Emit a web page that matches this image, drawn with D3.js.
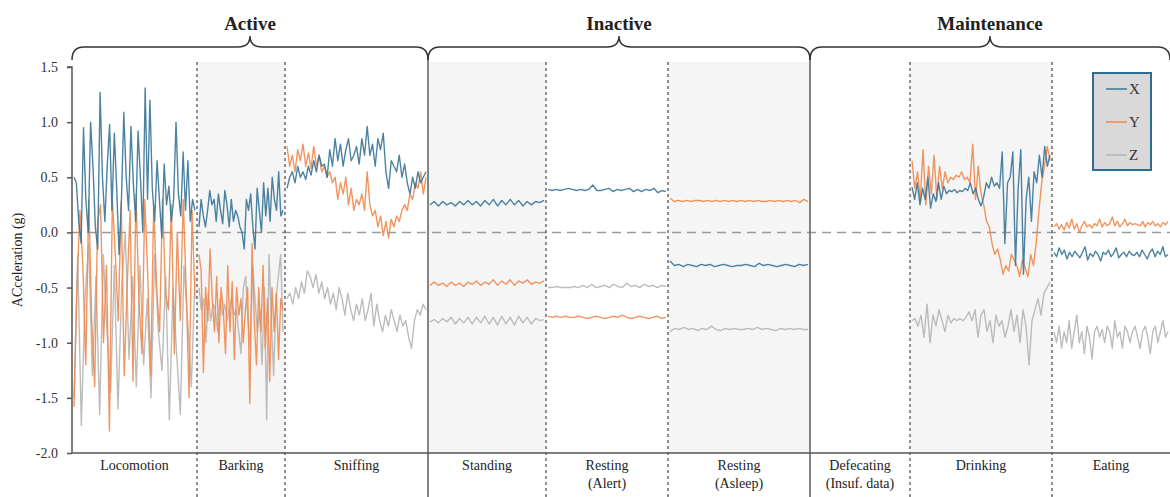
<!DOCTYPE html>
<html lang="en">
<head>
  <meta charset="utf-8">
  <title>Acceleration by behaviour</title>
  <script src="https://d3js.org/d3.v7.min.js"></script>
  <style>
  body { margin: 0; background: #fff; }
  svg text { font-family: "Liberation Serif", "Times New Roman", serif; fill: #222; }
  .axis text { font-size: 14px; fill: #333; }
  .axis path, .axis line { stroke: #555; stroke-width: 1.5; }
  </style>
</head>
<body>
<div id="chart"></div>
<script>
// behaviours along the x axis, with how many samples each one covers
var categories = ["Locomotion", "Barking", "Sniffing", "Standing", "Resting\n(Alert)",
                  "Resting\n(Asleep)", "Defecating\n(Insuf. data)", "Drinking", "Eating"];
var segLength = [125, 88, 143, 118, 122, 142, 100, 142, 118];
var groupNames = ["Active", "Inactive", "Maintenance"];
var groupSpans = [[0, 3], [3, 6], [6, 9]];
var yTicks = [1.5, 1.0, 0.5, 0.0, -0.5, -1.0, -1.5, -2.0];
var axisNames = ["X", "Y", "Z"];

// acceleration (g)
var locomotionX = [0.5, 0.45, 0.1, -0.1, 0.95, 0.3, 0.0, 1.0, 0.6, 0.05, -0.15, 1.27, 0.5, 0.1, 0.6, 0.98, 0.2, 0.9, 0.4, -0.2, 0.3, 1.09, 0.5, 0.2, 0.96, 0.45, 0.1, 0.92, 0.5, 0.0, 1.31, 0.3, 1.2, 0.4, 0.1, 0.65, 0.3, -0.05, 0.62, 0.25, 0.42, 0.1, 0.3, 1.0, 0.35, 0.15, 0.73, 0.2, 0.65, 0.1, 0.3, 0.2];
var locomotionY = [-1.58, -0.5, 0.2, -0.3, -1.2, 0.3, -0.8, -1.4, 0.1, 0.25, -1.0, -0.3, -1.8, 0.3, -0.2, -0.8, 0.28, -1.3, -0.5, 0.2, -1.35, 0.35, -0.6, -1.1, 0.3, -0.4, -1.3, 0.25, -0.5, -0.9, 0.3, -0.55, -0.7, 0.25, -1.1, 0.0, -0.8, 0.3, -0.5, -1.5, 0.2, -0.6];
var locomotionZ = [-1.5, -0.2, -1.75, -0.6, -0.1, -1.3, -0.4, -1.65, -0.2, -0.9, -1.45, -0.3, -1.6, -0.5, 0.0, -1.15, -0.4, -1.4, -0.3, -1.2, -0.6, -1.5, -0.2, -0.9, -1.25, -0.4, -1.7, -0.5, -1.1, -1.65, -0.3, -0.8, -1.4, -0.4];

var barkingX = [0.05, 0.3, 0.15, 0.05, 0.2, 0.38, 0.25, 0.3, 0.1, 0.35, 0.2, 0.08, 0.38, 0.25, 0.05, 0.3, 0.1, 0.2, 0.15, 0.05, 0.0, -0.15, 0.3, 0.2, 0.35, 0.05, -0.15, 0.4, 0.2, 0.0, 0.45, 0.15, 0.4, 0.1, 0.5, 0.3, 0.2, 0.55, 0.15, 0.2];
var barkingY = [-0.2, -0.35, -1.27, -0.5, -0.8, -0.15, -0.6, -0.9, -0.4, -1.0, -0.5, -0.7, -1.1, -0.3, -0.9, -0.45, -1.15, -0.5, -0.75, -0.6, -1.0, -0.7, -0.5, -1.55, -0.1, -0.8, -1.2, -0.5, -0.9, -0.3, -1.05, -0.6, -1.35, -0.5, -0.9, -0.55, -1.15, -0.6, -0.7];
var barkingZ = [-0.5, -0.7, -0.6, -1.0, -0.55, -0.8, -0.65, -0.7, -0.9, -0.6, -0.75, -0.65, -0.8, -0.7, -0.6, -0.75, -0.7, -0.9, -1.1, -0.5, -0.4, -0.8, -1.05, -0.3, -0.6, -0.9, -0.7, -1.2, -0.5, -1.7, -0.2, -0.8, -1.3, -0.6, -0.4, -0.2, -0.9];

var sniffingX = [0.4, 0.5, 0.55, 0.45, 0.6, 0.5, 0.55, 0.48, 0.6, 0.52, 0.65, 0.55, 0.7, 0.6, 0.62, 0.5, 0.75, 0.6, 0.85, 0.65, 0.8, 0.6, 0.75, 0.85, 0.65, 0.7, 0.78, 0.62, 0.85, 0.7, 0.96, 0.7, 0.8, 0.6, 0.85, 0.75, 0.9, 0.55, 0.4, 0.65, 0.6, 0.55, 0.7, 0.5, 0.62, 0.45, 0.35, 0.5, 0.4, 0.55, 0.45, 0.5, 0.55];
var sniffingY = [0.78, 0.6, 0.7, 0.55, 0.75, 0.65, 0.8, 0.6, 0.72, 0.58, 0.78, 0.6, 0.7, 0.55, 0.6, 0.5, 0.55, 0.45, 0.5, 0.3, 0.45, 0.35, 0.5, 0.25, 0.4, 0.2, 0.3, 0.25, 0.35, 0.2, 0.55, 0.25, 0.15, 0.2, 0.05, 0.15, -0.03, 0.1, -0.05, 0.12, 0.05, 0.15, 0.1, 0.2, 0.25, 0.2, 0.35, 0.3, 0.45, 0.4, 0.55, 0.35, 0.5];
var sniffingZ = [-0.6, -0.55, -0.65, -0.5, -0.6, -0.45, -0.55, -0.35, -0.4, -0.5, -0.38, -0.55, -0.45, -0.6, -0.5, -0.65, -0.55, -0.7, -0.5, -0.6, -0.75, -0.55, -0.7, -0.8, -0.65, -0.75, -0.6, -0.8, -0.7, -0.55, -0.85, -0.65, -0.8, -0.9, -0.75, -0.85, -0.7, -0.8, -0.9, -0.75, -0.85, -0.8, -0.95, -1.05, -0.8, -0.7, -0.75, -0.65, -0.7];

var standingX = [0.25, 0.28, 0.24, 0.28, 0.25, 0.27, 0.24, 0.28, 0.25, 0.29, 0.25, 0.28, 0.24, 0.29, 0.25, 0.3, 0.24, 0.29, 0.25, 0.3, 0.25, 0.29, 0.24, 0.28, 0.25, 0.28, 0.27, 0.29];
var standingY = [-0.48, -0.45, -0.48, -0.46, -0.49, -0.45, -0.48, -0.46, -0.49, -0.45, -0.47, -0.44, -0.48, -0.45, -0.47, -0.43, -0.48, -0.44, -0.47, -0.43, -0.48, -0.44, -0.46, -0.43, -0.47, -0.45, -0.46, -0.44];
var standingZ = [-0.81, -0.79, -0.82, -0.78, -0.81, -0.77, -0.83, -0.78, -0.82, -0.77, -0.83, -0.77, -0.82, -0.76, -0.83, -0.77, -0.84, -0.76, -0.83, -0.77, -0.84, -0.76, -0.82, -0.77, -0.83, -0.78, -0.8, -0.79];

var alertX = [0.39, 0.38, 0.39, 0.38, 0.39, 0.4, 0.39, 0.38, 0.39, 0.38, 0.39, 0.43, 0.38, 0.38, 0.39, 0.4, 0.37, 0.39, 0.38, 0.39, 0.4, 0.37, 0.39, 0.37, 0.39, 0.38, 0.4, 0.36, 0.38, 0.37];
var alertY = [-0.76, -0.77, -0.76, -0.77, -0.76, -0.77, -0.77, -0.76, -0.77, -0.78, -0.77, -0.76, -0.77, -0.78, -0.77, -0.76, -0.77, -0.75, -0.77, -0.78, -0.77, -0.76, -0.77, -0.78, -0.77, -0.76, -0.78, -0.77];
var alertZ = [-0.5, -0.5, -0.49, -0.5, -0.5, -0.5, -0.49, -0.5, -0.48, -0.5, -0.47, -0.5, -0.49, -0.48, -0.5, -0.47, -0.49, -0.5, -0.46, -0.49, -0.48, -0.5, -0.47, -0.49, -0.48, -0.5, -0.48, -0.49];

var asleepX = [-0.26, -0.3, -0.29, -0.31, -0.29, -0.3, -0.31, -0.29, -0.3, -0.29, -0.31, -0.3, -0.29, -0.3, -0.31, -0.3, -0.3, -0.29, -0.3, -0.31, -0.28, -0.3, -0.29, -0.3, -0.31, -0.3, -0.29, -0.3, -0.31, -0.29, -0.3, -0.29];
var asleepY = [0.31, 0.28, 0.29, 0.28, 0.29, 0.28, 0.29, 0.29, 0.28, 0.29, 0.28, 0.29, 0.28, 0.29, 0.28, 0.29, 0.28, 0.29, 0.28, 0.29, 0.28, 0.29, 0.28, 0.28, 0.29, 0.28, 0.29, 0.28, 0.29, 0.28, 0.29, 0.27, 0.3, 0.28];
var asleepZ = [-0.9, -0.87, -0.88, -0.86, -0.88, -0.87, -0.89, -0.87, -0.88, -0.85, -0.88, -0.89, -0.87, -0.88, -0.87, -0.88, -0.88, -0.87, -0.88, -0.86, -0.88, -0.87, -0.88, -0.89, -0.87, -0.88, -0.87, -0.88, -0.87, -0.88, -0.88];

var drinkingX = [0.41, 0.3, 0.45, 0.25, 0.4, 0.3, 0.5, 0.22, 0.35, 0.28, 0.45, 0.3, 0.42, 0.35, 0.38, 0.37, 0.39, 0.36, 0.38, 0.37, 0.4, 0.38, 0.45, 0.35, 0.4, 0.3, 0.24, 0.32, 0.45, 0.4, 0.5, 0.42, 0.45, 0.4, 0.73, -0.1, 0.45, 0.5, 0.73, -0.3, 0.4, 0.75, -0.38, 0.3, 0.5, 0.1, 0.55, 0.45, 0.7, 0.5, 0.78, 0.6, 0.7];
var drinkingY = [0.65, 0.4, 0.55, 0.3, 0.75, 0.25, 0.6, 0.35, 0.7, 0.3, 0.6, 0.4, 0.55, 0.45, 0.5, 0.48, 0.52, 0.5, 0.55, 0.48, 0.5, 0.45, 0.8, 0.3, 0.6, 0.35, 0.25, 0.1, 0.05, -0.1, -0.2, -0.15, -0.25, -0.38, -0.3, -0.35, -0.2, -0.25, -0.3, -0.4, -0.25, -0.32, -0.4, -0.2, -0.3, -0.1, 0.2, 0.45, 0.6, 0.78, 0.65];
var drinkingZ = [-0.8, -0.78, -0.85, -0.75, -0.95, -0.65, -1.0, -0.75, -0.85, -0.7, -0.8, -0.9, -0.75, -0.82, -0.78, -0.8, -0.78, -0.8, -0.77, -0.72, -0.8, -0.7, -0.95, -0.75, -0.7, -0.9, -0.8, -1.0, -0.75, -0.85, -0.8, -0.95, -0.85, -0.7, -0.9, -0.75, -1.0, -0.7, -0.85, -1.2, -0.8, -0.7, -0.6, -0.75, -0.55, -0.5, -0.45];

var eatingX = [-0.18, -0.22, -0.14, -0.2, -0.16, -0.24, -0.18, -0.22, -0.17, -0.2, -0.23, -0.18, -0.13, -0.25, -0.19, -0.22, -0.17, -0.2, -0.26, -0.18, -0.2, -0.16, -0.22, -0.19, -0.14, -0.23, -0.2, -0.18, -0.22, -0.17, -0.2, -0.21, -0.18, -0.22, -0.16, -0.2, -0.24, -0.18, -0.15, -0.22, -0.17, -0.2, -0.13, -0.22, -0.2];
var eatingY = [0.05, 0.08, 0.03, 0.07, 0.02, 0.09, 0.04, 0.12, 0.03, 0.08, 0.0, 0.06, 0.1, 0.05, 0.07, 0.04, 0.08, 0.06, 0.12, 0.05, 0.09, 0.06, 0.08, 0.14, 0.06, 0.1, 0.05, 0.08, 0.12, 0.06, 0.09, 0.07, 0.08, 0.07, 0.06, 0.1, 0.05, 0.09, 0.07, 0.1, 0.06, 0.08, 0.05, 0.09, 0.07, 0.1];
var eatingZ = [-0.9, -1.0, -0.85, -1.05, -0.9, -1.0, -0.8, -1.05, -0.9, -0.75, -1.0, -0.9, -1.1, -0.85, -0.95, -1.15, -0.9, -0.85, -0.95, -0.88, -1.0, -0.85, -0.9, -1.05, -0.8, -0.95, -0.9, -1.05, -0.85, -0.9, -1.0, -0.9, -0.85, -0.95, -1.05, -0.9, -0.85, -0.95, -1.1, -0.9, -0.85, -1.0, -0.9, -0.8, -0.95, -0.9];

// one entry per category (null = no data for that behaviour)
var seriesX = [locomotionX, barkingX, sniffingX, standingX, alertX, asleepX, null, drinkingX, eatingX];
var seriesY = [locomotionY, barkingY, sniffingY, standingY, alertY, asleepY, null, drinkingY, eatingY];
var seriesZ = [locomotionZ, barkingZ, sniffingZ, standingZ, alertZ, asleepZ, null, drinkingZ, eatingZ];

var width = 1170, height = 497;
var margin = {left: 72, right: 0, top: 67, bottom: 44};
var colors = {X: "#3a7697", Y: "#f0894f", Z: "#b5b5b5"};

var svg = d3.select("#chart").append("svg")
  .attr("width", width)
  .attr("height", height);

// segment start positions in sample units
var starts = [0];
segLength.forEach(function(l, i) { starts.push(starts[i] + l); });
var total = starts[starts.length - 1];

var x = d3.scaleLinear().domain([0, total]).range([margin.left, width - margin.right]);
var y = d3.scaleLinear().domain([-2, 1.5]).range([height - margin.bottom, margin.top]);
var plotTop = margin.top - 5;
var plotBottom = height - margin.bottom;

// grey shading on every other behaviour
svg.selectAll("rect.shade")
  .data(categories.filter(function(d, i) { return i % 2 == 1; }))
  .enter().append("rect")
  .attr("class", "shade")
  .attr("x", function(d) { return x(starts[categories.indexOf(d)]); })
  .attr("width", function(d) { var i = categories.indexOf(d); return x(starts[i + 1]) - x(starts[i]); })
  .attr("y", plotTop)
  .attr("height", plotBottom - plotTop)
  .attr("fill", "#f5f5f5");

// zero reference line
svg.append("line")
  .attr("x1", x(0)).attr("x2", x(total))
  .attr("y1", y(0)).attr("y2", y(0))
  .attr("stroke", "#9a9a9a")
  .attr("stroke-width", 1.6)
  .attr("stroke-dasharray", "9,6");

// the three acceleration traces
var line = d3.line()
  .x(function(d) { return x(d[0]); })
  .y(function(d) { return y(d[1]); });

function toPoints(values, seg) {
  var pad = 2;
  var a = starts[seg] + pad, b = starts[seg + 1] - pad;
  return values.map(function(v, k) { return [a + (b - a) * k / (values.length - 1), v]; });
}

[["Z", seriesZ], ["Y", seriesY], ["X", seriesX]].forEach(function(s) {
  s[1].forEach(function(values, seg) {
    if (!values) return;
    svg.append("path")
      .attr("d", line(toPoints(values, seg)))
      .attr("fill", "none")
      .attr("stroke", colors[s[0]])
      .attr("stroke-width", 1.4)
      .attr("stroke-opacity", 0.9)
      .attr("stroke-linejoin", "round");
  });
});

// behaviour dividers: solid between groups, dotted inside a group
var groupEdges = groupSpans.map(function(g) { return g[1]; });
for (var i = 1; i < categories.length; i++) {
  var solid = groupEdges.indexOf(i) >= 0;
  svg.append("line")
    .attr("x1", x(starts[i])).attr("x2", x(starts[i]))
    .attr("y1", solid ? 60 : plotTop).attr("y2", height)
    .attr("stroke", solid ? "#666" : "#555")
    .attr("stroke-width", solid ? 1.6 : 1.3)
    .attr("stroke-dasharray", solid ? null : "3,3");
}

// axes
svg.append("g")
  .attr("class", "axis")
  .attr("transform", "translate(" + margin.left + ",0)")
  .call(d3.axisLeft(y).tickValues(yTicks).tickSize(5).tickPadding(9)
    .tickFormat(function(d) { return d.toFixed(1); }))
  .call(function(g) { g.select(".domain").attr("d", "M-5," + y(1.5) + "H0V" + y(-2)); });

svg.append("line")
  .attr("x1", x(0)).attr("x2", x(total))
  .attr("y1", plotBottom).attr("y2", plotBottom)
  .attr("stroke", "#555").attr("stroke-width", 1.5);

svg.append("text")
  .attr("transform", "translate(22," + y(-0.25) + ") rotate(-90)")
  .attr("text-anchor", "middle")
  .style("font-size", "14px")
  .text("ACceleration (g)");

// behaviour names under the axis
categories.forEach(function(c, i) {
  var t = svg.append("text")
    .attr("x", x((starts[i] + starts[i + 1]) / 2))
    .attr("y", plotBottom + 17)
    .attr("text-anchor", "middle")
    .style("font-size", "14px");
  c.split("\n").forEach(function(part, k) {
    t.append("tspan").attr("x", x((starts[i] + starts[i + 1]) / 2)).attr("dy", k ? 18 : 0).text(part);
  });
});

// group braces and titles
groupSpans.forEach(function(g, i) {
  var x0 = x(starts[g[0]]), x1 = x(starts[g[1]]), xm = (x0 + x1) / 2;
  var yEnd = 60, yMid = 47, yTip = 36, r = 12;
  var d = "M" + x0 + "," + yEnd +
    "Q" + x0 + "," + yMid + " " + (x0 + r) + "," + yMid +
    "H" + (xm - r) +
    "Q" + xm + "," + yMid + " " + xm + "," + yTip +
    "Q" + xm + "," + yMid + " " + (xm + r) + "," + yMid +
    "H" + (x1 - r) +
    "Q" + x1 + "," + yMid + " " + x1 + "," + yEnd;
  svg.append("path").attr("d", d)
    .attr("fill", "none").attr("stroke", "#333").attr("stroke-width", 1.5);
  svg.append("text")
    .attr("x", xm).attr("y", 30)
    .attr("text-anchor", "middle")
    .style("font-size", "19px").style("font-weight", "bold")
    .text(groupNames[i]);
});

// legend
var legend = svg.append("g").attr("transform", "translate(1093,73)");
legend.append("rect")
  .attr("width", 58).attr("height", 97)
  .attr("fill", "#d9d9d9").attr("stroke", "#2d6e8e").attr("stroke-width", 2);
axisNames.forEach(function(n, i) {
  var ly = 16 + i * 33;
  legend.append("line")
    .attr("x1", 13).attr("x2", 34).attr("y1", ly).attr("y2", ly)
    .attr("stroke", colors[n]).attr("stroke-width", 1.5);
  legend.append("text")
    .attr("x", 36).attr("y", ly + 5)
    .style("font-size", "15px").style("fill", "#333")
    .text(n);
});
</script>
</body>
</html>
